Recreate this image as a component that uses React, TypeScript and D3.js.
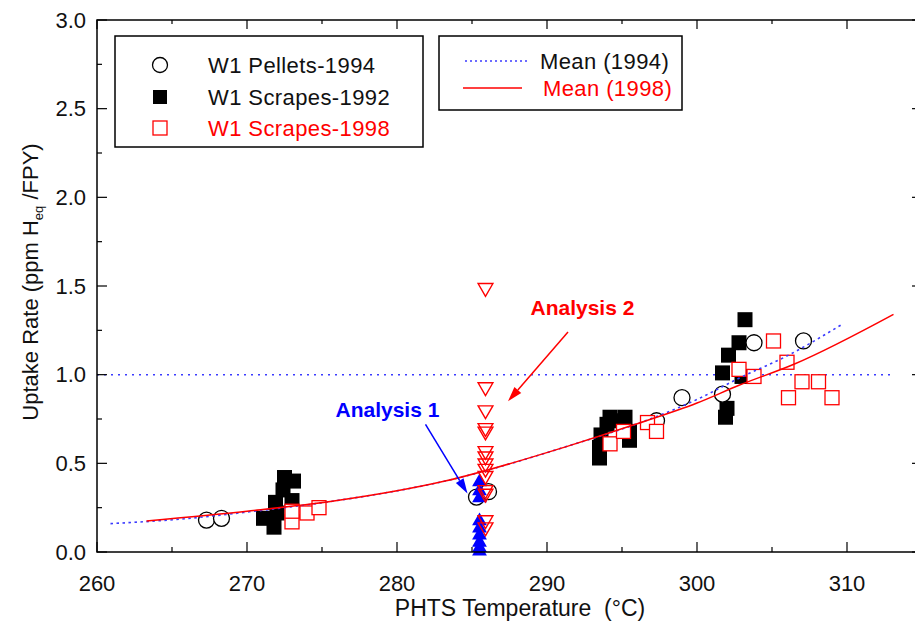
import React from 'react';
import * as d3 from 'd3';

// [temperature °C, uptake rate]
const pellets1994: [number, number][] = [
  [267.3, 0.18], [268.3, 0.19], [285.3, 0.31], [286.1, 0.34], [297.3, 0.74],
  [299.0, 0.87], [301.7, 0.89], [303.8, 1.18], [307.1, 1.19],
];
const scrapes1992: [number, number][] = [
  [272.5, 0.42], [273.1, 0.40], [272.4, 0.35], [271.9, 0.28], [273.0, 0.29],
  [272.0, 0.22], [271.1, 0.19], [271.8, 0.14],
  [293.5, 0.53], [293.5, 0.59], [293.6, 0.66], [294.0, 0.72], [294.2, 0.76],
  [294.7, 0.74], [295.2, 0.76], [295.5, 0.68], [295.5, 0.63],
  [303.2, 1.31], [302.8, 1.18], [302.1, 1.11], [301.7, 1.01], [303.0, 0.99],
  [302.0, 0.81], [301.9, 0.76],
];
const scrapes1998: [number, number][] = [
  [273.0, 0.17], [273.0, 0.23], [274.0, 0.22], [274.8, 0.25],
  [294.2, 0.61], [295.1, 0.68], [296.7, 0.73], [297.3, 0.68],
  [302.8, 1.03], [303.8, 0.99], [305.1, 1.19], [306.0, 1.07],
  [307.0, 0.96], [308.1, 0.96], [306.1, 0.87], [309.0, 0.87],
];
// Analysis 2 (red, down triangles) and Analysis 1 (blue, up triangles)
const analysis2T = 285.9;
const analysis2: number[] = [1.49, 0.93, 0.80, 0.70, 0.68, 0.57, 0.54, 0.50, 0.47, 0.43, 0.35, 0.33, 0.18, 0.14];
const analysis1T = 285.5;
const analysis1: number[] = [0.40, 0.35, 0.31, 0.18, 0.14, 0.10, 0.06, 0.03, 0.01];

const mean1994: [number, number][] = [
  [260.9, 0.16], [265.5, 0.185], [270, 0.225], [276, 0.29], [283.2, 0.40],
  [291.5, 0.60], [295.9, 0.72], [300, 0.86], [302.8, 0.98], [306.1, 1.11], [309.6, 1.28],
];
const mean1998: [number, number][] = [
  [263.3, 0.175], [270, 0.23], [276, 0.29], [283.2, 0.40], [291.5, 0.60],
  [295.9, 0.72], [300, 0.84], [302.8, 0.94], [306.5, 1.06], [313.1, 1.34],
];
const refLevel = 1.0;
const refRange = [260, 313];

const xTicks = [260, 270, 280, 290, 300, 310];
const yTicks = [0, 0.5, 1.0, 1.5, 2.0, 2.5, 3.0];

const FONT = '"Liberation Sans", Arial, sans-serif';
const RED = '#ff0000';
const BLUE = '#0000ff';
const DOT_BLUE = '#3b3bff';

export default function App() {
  const width = 915;
  const height = 632;
  const left = 97, right = 922, top = 20, bottom = 552;

  const x = d3.scaleLinear().domain([260, 315]).range([left, right]);
  const y = d3.scaleLinear().domain([0, 3]).range([bottom, top]);

  const line = d3.line<[number, number]>()
    .x(d => x(d[0]))
    .y(d => y(d[1]))
    .curve(d3.curveMonotoneX);

  const triUp = d3.symbol().type(d3.symbolTriangle).size(95)();
  const minorX = d3.range(260, 316, 5);
  const minorY = d3.range(0, 3.01, 0.25);

  const arrow = (x1: number, y1: number, x2: number, y2: number, color: string) => {
    const ang = Math.atan2(y2 - y1, x2 - x1);
    const len = 15, w = 4.5;
    const bx = x2 - len * Math.cos(ang), by = y2 - len * Math.sin(ang);
    const px = -Math.sin(ang) * w, py = Math.cos(ang) * w;
    return (
      <g>
        <line x1={x1} y1={y1} x2={bx} y2={by} stroke={color} strokeWidth={1.5} />
        <polygon points={`${x2},${y2} ${bx + px},${by + py} ${bx - px},${by - py}`} fill={color} />
      </g>
    );
  };

  return (
    <svg width={width} height={height} style={{ position: 'absolute', left: 0, top: 0, background: '#fff' }}
      fontFamily={FONT}>
      <rect x={0} y={0} width={width} height={height} fill="#fff" />

      {/* reference level */}
      <line x1={x(refRange[0])} x2={x(refRange[1])} y1={y(refLevel)} y2={y(refLevel)}
        stroke={DOT_BLUE} strokeWidth={1.5} strokeDasharray="2,5" />

      {/* markers */}
      {scrapes1992.map((d, i) => (
        <rect key={'b' + i} x={x(d[0]) - 7.5} y={y(d[1]) - 7.5} width={15} height={15} fill="#000" />
      ))}
      {pellets1994.map((d, i) => (
        <circle key={'c' + i} cx={x(d[0])} cy={y(d[1])} r={8} fill="#fff" stroke="#000" strokeWidth={1.3} />
      ))}
      {scrapes1998.map((d, i) => (
        <rect key={'r' + i} x={x(d[0]) - 7} y={y(d[1]) - 7} width={14} height={14} fill="#fff" stroke={RED} strokeWidth={1.3} />
      ))}
      {analysis1.map((v, i) => (
        <path key={'u' + i} d={triUp!} transform={`translate(${x(analysis1T)},${y(v) + 1})`} fill={BLUE} />
      ))}
      {analysis2.map((v, i) => (
        <path key={'d' + i} d={triUp!} transform={`translate(${x(analysis2T)},${y(v)}) rotate(180)`}
          fill="none" stroke={RED} strokeWidth={1.4} />
      ))}

      {/* mean curves */}
      <path d={line(mean1994)!} fill="none" stroke={DOT_BLUE} strokeWidth={1.6} strokeDasharray="2.5,3.5" />
      <path d={line(mean1998)!} fill="none" stroke={RED} strokeWidth={1.5} />

      {/* annotations */}
      <text x={x(288.9)} y={y(1.38)} dy="0.35em" fill={RED} fontWeight="bold" fontSize={21}>Analysis 2</text>
      {arrow(x(291.4), y(1.24), x(287.4), y(0.85), RED)}
      <text x={x(275.9)} y={y(0.80)} dy="0.35em" fill={BLUE} fontWeight="bold" fontSize={21}>Analysis 1</text>
      {arrow(x(281.9), y(0.72), x(284.7), y(0.33), BLUE)}

      {/* frame and ticks */}
      <rect x={left} y={top} width={right - left} height={bottom - top} fill="none" stroke="#000" strokeWidth={1.5} />
      {minorX.map(t => {
        const major = t % 10 === 0;
        return (
          <g key={'xt' + t}>
            <line x1={x(t)} x2={x(t)} y1={bottom} y2={bottom - (major ? 10 : 5)} stroke="#000" strokeWidth={1.2} />
            <line x1={x(t)} x2={x(t)} y1={top} y2={top + (major ? 9 : 4)} stroke="#000" strokeWidth={1.2} />
          </g>
        );
      })}
      {minorY.map(v => {
        const major = Math.abs(v * 2 - Math.round(v * 2)) < 1e-6;
        return (
          <g key={'yt' + v}>
            <line x1={left} x2={left + (major ? 10 : 5)} y1={y(v)} y2={y(v)} stroke="#000" strokeWidth={1.2} />
            <line x1={right} x2={right - (major ? 10 : 5)} y1={y(v)} y2={y(v)} stroke="#000" strokeWidth={1.2} />
          </g>
        );
      })}
      {xTicks.map(t => (
        <text key={'xl' + t} x={x(t)} y={583} dy="0.35em" textAnchor="middle" fontSize={22} fill="#111">{t}</text>
      ))}
      {yTicks.map(v => (
        <text key={'yl' + v} x={86} y={y(v)} dy="0.35em" textAnchor="end" fontSize={22} fill="#111">{v.toFixed(1)}</text>
      ))}

      {/* axis titles */}
      <text x={520} y={608} dy="0.35em" textAnchor="middle" fontSize={23} fill="#111"
        style={{ whiteSpace: 'pre' }}>{'PHTS Temperature  (°C)'}</text>
      <text transform={`translate(30,282) rotate(-90)`} textAnchor="middle" fontSize={22} fill="#111" dy="0.35em">
        Uptake Rate (ppm H<tspan fontSize={13} dy="5">eq</tspan><tspan dy="-5"> /FPY)</tspan>
      </text>

      {/* legend 1 */}
      <rect x={115} y={36} width={308} height={111} fill="#fff" stroke="#000" strokeWidth={1.5} />
      <circle cx={160} cy={65} r={7.5} fill="#fff" stroke="#000" strokeWidth={1.3} />
      <rect x={153} y={90} width={14} height={14} fill="#000" />
      <rect x={153} y={121} width={14} height={14} fill="#fff" stroke={RED} strokeWidth={1.3} />
      <text x={208} y={65} dy="0.35em" fontSize={22} fill="#111" letterSpacing={0.4}>W1 Pellets-1994</text>
      <text x={208} y={97} dy="0.35em" fontSize={22} fill="#111" letterSpacing={0.4}>W1 Scrapes-1992</text>
      <text x={208} y={128} dy="0.35em" fontSize={22} fill={RED} letterSpacing={0.4}>W1 Scrapes-1998</text>

      {/* legend 2 */}
      <rect x={439} y={36} width={243} height={74} fill="#fff" stroke="#000" strokeWidth={1.5} />
      <line x1={465} x2={527} y1={61} y2={61} stroke={DOT_BLUE} strokeWidth={1.5} strokeDasharray="2,3" />
      <line x1={463} x2={522} y1={88} y2={88} stroke={RED} strokeWidth={1.5} />
      <text x={540} y={61} dy="0.35em" fontSize={22} fill="#111" letterSpacing={0.4}>Mean (1994)</text>
      <text x={543} y={88} dy="0.35em" fontSize={22} fill={RED} letterSpacing={0.4}>Mean (1998)</text>
    </svg>
  );
}
